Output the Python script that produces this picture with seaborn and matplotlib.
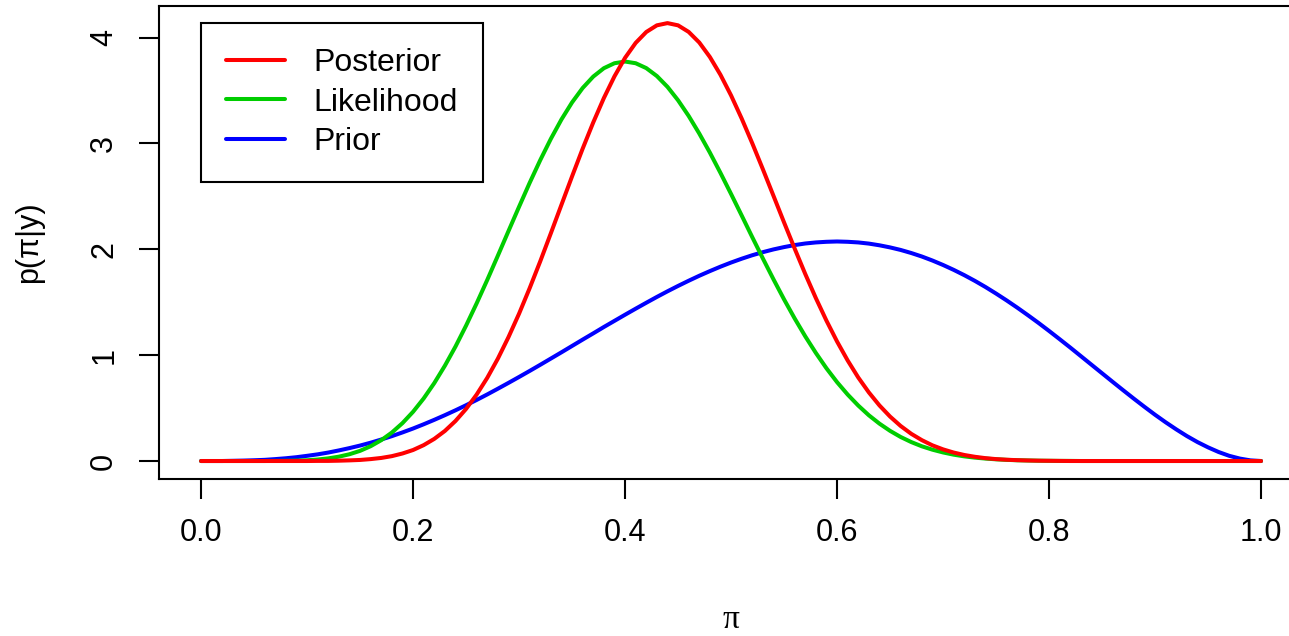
import pandas as pd
import seaborn as sns
import matplotlib
matplotlib.use("Agg")
import matplotlib.pyplot as plt

# pi grid (step 0.01) and the three density curves
pi_grid = [i / 100 for i in range(101)]

posterior = [0.000, 0.000, 0.000, 0.000, 0.000, 0.000, 0.000, 0.000, 0.000, 0.000,
             0.000, 0.001, 0.001, 0.003, 0.006, 0.010, 0.018, 0.029, 0.046, 0.071,
             0.104, 0.150, 0.209, 0.284, 0.378, 0.492, 0.628, 0.786, 0.967, 1.170,
             1.392, 1.633, 1.887, 2.152, 2.421, 2.689, 2.951, 3.199, 3.429, 3.634,
             3.809, 3.950, 4.053, 4.116, 4.137, 4.116, 4.054, 3.954, 3.817, 3.649,
             3.454, 3.236, 3.002, 2.757, 2.506, 2.254, 2.007, 1.767, 1.539, 1.326,
             1.129, 0.950, 0.789, 0.648, 0.525, 0.420, 0.331, 0.257, 0.197, 0.148,
             0.110, 0.080, 0.057, 0.040, 0.027, 0.018, 0.012, 0.008, 0.005, 0.003,
             0.002, 0.001, 0.000, 0.000, 0.000, 0.000, 0.000, 0.000, 0.000, 0.000,
             0.000, 0.000, 0.000, 0.000, 0.000, 0.000, 0.000, 0.000, 0.000, 0.000,
             0.000]
likelihood = [0.000, 0.000, 0.000, 0.000, 0.000, 0.000, 0.000, 0.001, 0.002, 0.004,
              0.007, 0.014, 0.025, 0.041, 0.064, 0.096, 0.140, 0.197, 0.269, 0.358,
              0.465, 0.591, 0.736, 0.900, 1.081, 1.279, 1.490, 1.711, 1.940, 2.172,
              2.402, 2.628, 2.843, 3.044, 3.227, 3.388, 3.524, 3.632, 3.711, 3.758,
              3.774, 3.758, 3.712, 3.637, 3.535, 3.408, 3.260, 3.094, 2.914, 2.722,
              2.523, 2.320, 2.115, 1.914, 1.717, 1.527, 1.347, 1.178, 1.021, 0.876,
              0.745, 0.628, 0.524, 0.432, 0.353, 0.285, 0.227, 0.179, 0.139, 0.107,
              0.081, 0.060, 0.044, 0.032, 0.023, 0.016, 0.011, 0.007, 0.005, 0.003,
              0.002, 0.001, 0.001, 0.000, 0.000, 0.000, 0.000, 0.000, 0.000, 0.000,
              0.000, 0.000, 0.000, 0.000, 0.000, 0.000, 0.000, 0.000, 0.000, 0.000,
              0.000]
prior = [0.000, 0.000, 0.000, 0.002, 0.004, 0.007, 0.011, 0.018, 0.026, 0.036,
         0.049, 0.063, 0.080, 0.100, 0.122, 0.146, 0.173, 0.203, 0.235, 0.270,
         0.307, 0.347, 0.389, 0.433, 0.479, 0.527, 0.577, 0.629, 0.683, 0.738,
         0.794, 0.851, 0.909, 0.968, 1.027, 1.087, 1.147, 1.206, 1.266, 1.324,
         1.382, 1.439, 1.495, 1.550, 1.603, 1.654, 1.703, 1.750, 1.794, 1.836,
         1.875, 1.911, 1.944, 1.973, 1.999, 2.021, 2.040, 2.055, 2.065, 2.071,
         2.074, 2.071, 2.065, 2.054, 2.038, 2.018, 1.994, 1.965, 1.932, 1.894,
         1.852, 1.806, 1.756, 1.702, 1.644, 1.582, 1.517, 1.449, 1.378, 1.305,
         1.229, 1.151, 1.072, 0.991, 0.910, 0.829, 0.748, 0.668, 0.589, 0.512,
         0.437, 0.366, 0.299, 0.236, 0.179, 0.129, 0.085, 0.049, 0.023, 0.006,
         0.000]

curve_names = ["Posterior", "Likelihood", "Prior"]
curve_colors = {"Posterior": "#FF0000", "Likelihood": "#00CD00", "Prior": "#0000FF"}
x_ticks = [0.0, 0.2, 0.4, 0.6, 0.8, 1.0]
y_ticks = [0, 1, 2, 3, 4]

sns.set_theme(style="ticks")
plt.rcParams["font.family"] = ["Liberation Sans", "DejaVu Sans"]
plt.rcParams["text.color"] = "black"
plt.rcParams["lines.solid_capstyle"] = "round"
plt.rcParams["lines.solid_joinstyle"] = "round"

# long-form table: prior first so the posterior ends up on top
df = pd.concat([
    pd.DataFrame({"pi": pi_grid, "density": prior, "curve": "Prior"}),
    pd.DataFrame({"pi": pi_grid, "density": likelihood, "curve": "Likelihood"}),
    pd.DataFrame({"pi": pi_grid, "density": posterior, "curve": "Posterior"}),
])

fig = plt.figure(figsize=(12.89, 6.36), dpi=100)
ax = fig.add_axes([0.1231, 0.2476, 0.8881, 0.7436])

sns.lineplot(data=df, x="pi", y="density", hue="curve",
             hue_order=["Prior", "Likelihood", "Posterior"],
             palette=curve_colors, linewidth=2.9, sort=False, ax=ax)

ymax = max(posterior)
ax.set_xlim(-0.04, 1.04)
ax.set_ylim(-0.04 * ymax, 1.04 * ymax)
ax.set_xticks(x_ticks)
ax.set_xticklabels([f"{t:.1f}" for t in x_ticks])
ax.set_yticks(y_ticks)
ax.set_yticklabels([str(t) for t in y_ticks])
ax.set_xlabel("")
ax.set_ylabel("")

for sp in ax.spines.values():
    sp.set_visible(True)
    sp.set_color("black")
    sp.set_linewidth(1.5)
ax.tick_params(axis="both", length=14.4, width=1.5, color="black",
               labelsize=22, labelcolor="black", pad=14)
ax.tick_params(axis="y", labelrotation=90)
for lab in ax.get_yticklabels():
    lab.set_va("center")

# legend in R style, ordered Posterior / Likelihood / Prior
handles, labels = ax.get_legend_handles_labels()
lookup = dict(zip(labels, handles))
leg = ax.legend([lookup[n] for n in curve_names], curve_names,
                loc="upper left", bbox_to_anchor=(0.037, 0.963), borderaxespad=0,
                fontsize=23, frameon=True, fancybox=False, framealpha=1,
                edgecolor="black", handlelength=1.85, handletextpad=0.9,
                labelspacing=0.3, borderpad=0.78)
leg.get_frame().set_linewidth(1.5)
for line in leg.get_lines():
    line.set_linewidth(2.9)
    line.set_solid_capstyle("round")

fig.text(29 / 1289, 1 - 242 / 636, "p(π|y)", rotation=90, ha="center", va="center",
         fontsize=22)
fig.text(731 / 1289, 1 - 620 / 636, "π", ha="center", va="center", fontsize=24,
         family=["Liberation Serif", "DejaVu Serif"])

fig.savefig("out.png", dpi=100)
